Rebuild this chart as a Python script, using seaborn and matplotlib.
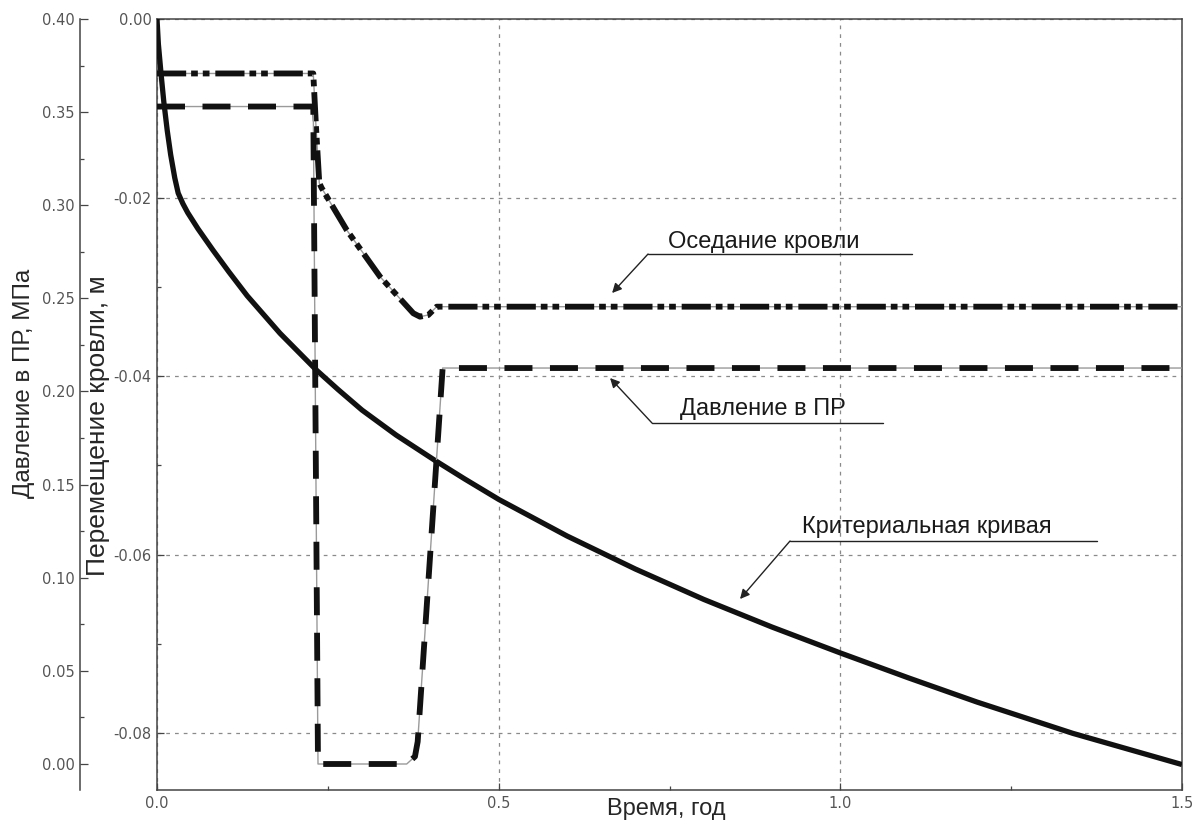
import matplotlib
matplotlib.use("Agg")
import matplotlib.pyplot as plt
from matplotlib.ticker import MultipleLocator, FormatStrFormatter
import seaborn as sns

# --- data -------------------------------------------------------------
# Критериальная кривая (перемещение, м)
crit_t = [0.0, 0.002, 0.006, 0.010, 0.015, 0.020, 0.026, 0.031, 0.038, 0.045,
          0.06, 0.082, 0.105, 0.132, 0.18, 0.233, 0.265, 0.30, 0.35, 0.406,
          0.45, 0.5, 0.6, 0.7, 0.8, 0.9, 1.0, 1.1, 1.2, 1.34, 1.5]
crit_d = [0.0, -0.0028, -0.0062, -0.0093, -0.0125, -0.0152, -0.0178, -0.0195,
          -0.0207, -0.0217, -0.0235, -0.0259, -0.0283, -0.0310, -0.0352,
          -0.0393, -0.0415, -0.0438, -0.0466, -0.0494, -0.0515, -0.0538,
          -0.0579, -0.0616, -0.0650, -0.0681, -0.0710, -0.0738, -0.0765,
          -0.0800, -0.0835]

# Оседание кровли (перемещение, м)
roof_t = [0.0, 0.2287, 0.2327, 0.2375, 0.2410, 0.2776, 0.3264, 0.3751,
          0.3849, 0.3970, 0.4093, 1.5]
roof_d = [-0.00610, -0.00610, -0.0121, -0.01837, -0.01893, -0.02363,
          -0.02886, -0.03296, -0.03334, -0.03315, -0.03222, -0.03222]

# Давление в ПР (МПа)
pres_t = [0.0, 0.2287, 0.2356, 0.3654, 0.3775, 0.3815, 0.4180, 1.5]
pres_p = [0.353, 0.353, 0.0, 0.0, 0.004, 0.012, 0.2126, 0.2126]

x_ticks = [0.0, 0.5, 1.0, 1.5]
d_ticks = [0.0, -0.02, -0.04, -0.06, -0.08]
p_ticks = [0.0, 0.05, 0.10, 0.15, 0.20, 0.25, 0.30, 0.35, 0.40]

# --- style ------------------------------------------------------------
sns.set_style("ticks")
plt.rcParams["font.family"] = ["Liberation Sans", "DejaVu Sans"]
plt.rcParams["axes.unicode_minus"] = False

INK = "#111111"
SPINE = "#444444"
TICKTXT = "#555555"

fig = plt.figure(figsize=(11.94, 8.23), dpi=100)
ax = fig.add_axes([157 / 1194, 33 / 823, 1025 / 1194, 771 / 823])
ax2 = ax.twinx()

# displacement axis (inner)
ax.set_xlim(0.0, 1.5)
ax.set_ylim(-0.08635, 0.0)
ax.set_xticks(x_ticks)
ax.set_yticks(d_ticks)
ax.xaxis.set_major_formatter(FormatStrFormatter("%.1f"))
ax.yaxis.set_major_formatter(FormatStrFormatter("%.2f"))
ax.xaxis.set_minor_locator(MultipleLocator(0.25))
ax.yaxis.set_minor_locator(MultipleLocator(0.01))
ax.grid(True, which="major", color="#8a8a8a", lw=0.9, linestyle=(0, (3, 4)))
for s in ax.spines.values():
    s.set_color(SPINE)
    s.set_linewidth(1.1)
    s.set_visible(True)
ax.tick_params(which="both", direction="in", color=SPINE, width=0.9)
ax.tick_params(which="major", length=5, labelsize=10.5, labelcolor=TICKTXT, pad=4)
ax.tick_params(which="minor", length=3)
for lab in ax.get_xticklabels() + ax.get_yticklabels():
    lab.set_family("DejaVu Sans")

# pressure axis (outer left)
ax2.set_ylim(-0.01396, 0.40)
ax2.set_yticks(p_ticks)
ax2.yaxis.set_major_formatter(FormatStrFormatter("%.2f"))
ax2.yaxis.set_minor_locator(MultipleLocator(0.025))
ax2.yaxis.tick_left()
ax2.yaxis.set_label_position("left")
ax2.spines["left"].set_position(("axes", -0.075))
ax2.spines["left"].set_visible(True)
ax2.spines["left"].set_color(SPINE)
ax2.spines["left"].set_linewidth(1.1)
for side in ("right", "top", "bottom"):
    ax2.spines[side].set_visible(False)
ax2.tick_params(which="both", direction="in", color=SPINE, width=0.9)
ax2.tick_params(which="major", length=6, labelsize=10.5, labelcolor=TICKTXT, pad=4)
ax2.tick_params(which="minor", length=3)
for lab in ax2.get_yticklabels():
    lab.set_family("DejaVu Sans")

# --- curves -----------------------------------------------------------
# criterion curve
sns.lineplot(x=crit_t, y=crit_d, ax=ax, sort=False, estimator=None,
             color=INK, lw=3.8, solid_capstyle="butt", solid_joinstyle="round",
             zorder=4)

# roof subsidence: thin grey trace under a heavy dash-dot-dot line
sns.lineplot(x=roof_t, y=roof_d, ax=ax, sort=False, estimator=None,
             color="#9a9a9a", lw=1.0, zorder=3)
sns.lineplot(x=roof_t, y=roof_d, ax=ax, sort=False, estimator=None,
             color=INK, lw=4.2,
             linestyle=(0, (5.0, 0.85, 1.15, 0.85, 1.15, 1.0)),
             dash_capstyle="butt", zorder=4)

# pressure in the support: thin grey trace under a heavy dashed line
sns.lineplot(x=pres_t, y=pres_p, ax=ax2, sort=False, estimator=None,
             color="#9a9a9a", lw=1.0, zorder=3)
sns.lineplot(x=pres_t, y=pres_p, ax=ax2, sort=False, estimator=None,
             color=INK, lw=4.2, linestyle=(0, (4.8, 3.0)),
             dash_capstyle="butt", zorder=4)

# --- labels -----------------------------------------------------------
ax.set_xlabel("Время, год", fontsize=17)
ax.xaxis.set_label_coords(0.497, -0.010)
ax.set_ylabel("Перемещение кровли, м", fontsize=19)
ax.yaxis.set_label_coords(-0.046, 0.473)
ax2.set_ylabel("Давление в ПР, МПа", fontsize=17.5)
ax2.yaxis.set_label_coords(-0.119, 0.527)

# --- callouts (text, leader underline, arrow) -------------------------
callouts = [
    ("Оседание кровли", 0.7478, -0.02565, 0.7186, 1.105, -0.02632, 0.666, -0.03069),
    ("Давление в ПР", 0.7654, -0.04435, 0.7244, 1.0625, -0.04525, 0.663, -0.04021),
    ("Критериальная кривая", 0.944, -0.05756, 0.9264, 1.3757, -0.05846, 0.8532, -0.06496),
]
for text, tx, ty, ux0, ux1, uy, ax_t, ax_d in callouts:
    ax.text(tx, ty, text, fontsize=17, ha="left", va="baseline", color="#1a1a1a", zorder=6)
    ax.plot([ux0, ux1], [uy, uy], color="#222222", lw=1.0, zorder=6)
    ax.annotate("", xy=(ax_t, ax_d), xytext=(ux0, uy),
                arrowprops=dict(arrowstyle="-|>", color="#222222", lw=1.0,
                                mutation_scale=14, shrinkA=0, shrinkB=0),
                zorder=6)

fig.savefig("out.png", dpi=100, facecolor="white")
